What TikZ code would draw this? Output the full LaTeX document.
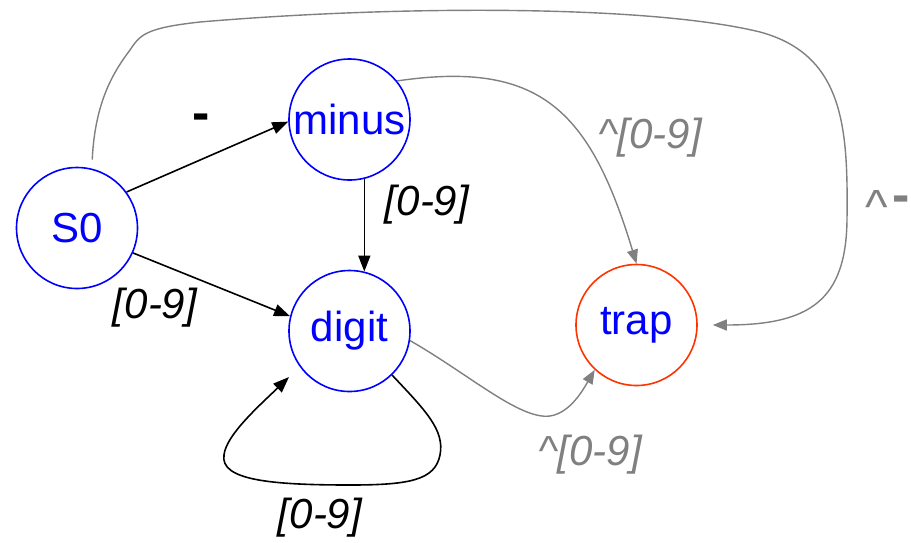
\documentclass[tikz,border=0pt]{standalone}
\usepackage{fontspec}
\setmainfont{Liberation Sans}
\usetikzlibrary{arrows.meta}
\definecolor{stblue}{RGB}{0,0,255}
\definecolor{trapred}{RGB}{255,51,0}
\definecolor{edgegray}{RGB}{128,128,128}
\begin{document}
\begin{tikzpicture}[x=1pt,y=-1pt,
  state/.style={circle,draw=stblue,line width=1.6pt,minimum size=121pt,inner sep=0pt,
    text=stblue,font=\fontsize{42}{50}\selectfont},
  blackedge/.style={draw=black,line width=1.6pt,-{Triangle[length=16pt,width=12pt]}},
  grayedge/.style={draw=edgegray,line width=1.4pt,-{Triangle[length=14pt,width=11pt]}},
  lbl/.style={font=\fontsize{42}{50}\selectfont\itshape,inner sep=0pt},
  glbl/.style={lbl,text=edgegray},
  dashlbl/.style={font=\fontsize{52}{60}\selectfont\bfseries,inner sep=0pt}]
\useasboundingbox (0,0) rectangle (911,542);
\node[state] (S0) at (77,228) {S0};
\node[state] (minus) at (349.5,119.5) {minus};
\node[state] (digit) at (349.5,331) {digit};
\node[state,draw=trapred] (trap) at (636.5,325) {trap};
\coordinate (loopend) at (289,377);
% black edges
\draw[blackedge] (S0.36) -- (minus.182);
\draw[blackedge] (S0.-24) -- (digit.166);
\draw[blackedge] (minus.-76) -- (digit.76);
\draw[blackedge] (digit.-46) .. controls (425,410) and (445,430) .. (440,455)
  .. controls (435,480) and (410,485) .. (350,485)
  .. controls (270,485) and (220,480) .. (224,455)
  .. controls (226,435) and (260,405) .. (loopend);
% gray edges
\draw[grayedge] (minus.39) .. controls (540,60) and (590,110) .. (trap.north);
\draw[grayedge] (digit.-9) .. controls (470,375) and (520,420) .. (550,416)
  .. controls (570,413) and (583,390) .. (trap.-133);
\draw[grayedge,shorten <=9pt,shorten >=15pt] (S0.76) .. controls (95,100) and (115,70) .. (130,50)
  .. controls (140,35) and (145,28) .. (200,22)
  .. controls (400,5) and (650,5) .. (760,32)
  .. controls (845,55) and (848,130) .. (847,220)
  .. controls (846,300) and (810,325) .. (trap.east);
% labels
\node[dashlbl] (lminus) at (201,122) {-};
\node[lbl] (l1) at (427,205) {[0-9]};
\node[lbl] (l2) at (155,308) {[0-9]};
\node[lbl] (l3) at (320,518) {[0-9]};
\node[glbl] (l4) at (650,138) {\textasciicircum[0-9]};
\node[glbl] (l5) at (590,455) {\textasciicircum[0-9]};
\node[font=\fontsize{48}{54}\selectfont,text=edgegray,inner sep=0pt] (l6a) at (877,207) {\textasciicircum};
\node[dashlbl,text=edgegray,anchor=west] (l6b) at (892,204) {-};
\end{tikzpicture}
\end{document}
